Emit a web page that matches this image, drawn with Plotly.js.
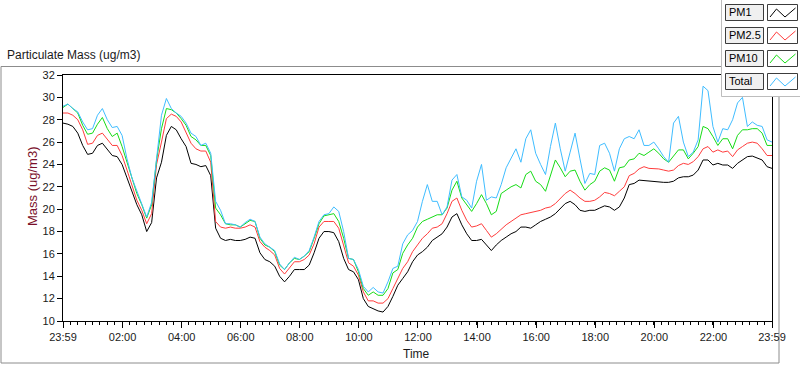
<!DOCTYPE html>
<html>
<head>
<meta charset="utf-8">
<script src="https://cdn.plot.ly/plotly-3.0.1.min.js"></script>
<style>html,body{margin:0;padding:0;background:#fff;}#chart{width:800px;height:365px;}</style>
</head>
<body>
<div id="chart"></div>
<script>
// ---- Data (10-minute samples from 23:59 to 23:59 next day) ----
const startTime = [2024, 0, 1, 23, 59];
const stepMinutes = 10;

const pm1 = [27.7,27.6,27.4,26.8,25.7,24.9,25.0,25.7,25.9,25.3,24.8,24.7,24.0,22.8,21.6,20.4,19.5,18.0,18.8,22.8,
24.2,26.6,27.4,27.1,26.3,25.6,24.1,24.0,23.8,23.9,23.0,18.3,17.4,17.2,17.3,17.2,17.2,17.3,17.5,17.4,
16.1,15.5,15.3,14.9,14.0,13.5,14.0,14.6,14.6,14.6,15.0,16.1,17.4,18.0,18.0,17.9,17.1,15.6,14.6,14.4,
13.7,12.0,11.3,11.1,10.9,10.8,11.3,12.2,13.2,13.8,14.4,15.3,15.9,16.2,16.6,17.2,17.5,17.8,18.4,19.3,
19.6,18.6,17.8,17.2,17.2,17.3,16.8,16.3,16.8,17.2,17.5,17.8,18.0,18.4,18.4,18.3,18.6,18.9,19.1,19.3,
19.6,20.1,20.5,20.7,20.4,19.9,19.8,19.9,19.9,20.1,20.3,20.2,19.9,20.2,21.0,22.2,22.3,22.6,22.55,22.5,
22.5,22.4,22.4,22.4,22.5,22.8,22.9,22.9,23.05,23.5,24.4,24.4,23.95,24.1,23.95,23.95,23.65,24.1,24.4,24.7,
24.75,24.6,24.4,23.8,23.65];

const pm25 = [28.6,28.6,28.4,28.0,27.1,25.8,25.9,26.6,26.8,26.3,25.7,25.7,24.8,23.5,22.2,20.8,19.9,18.7,19.6,24.0,
26.0,28.1,28.5,28.3,27.8,26.9,25.9,25.4,25.2,25.2,24.2,18.9,18.4,18.3,18.4,18.3,18.3,18.4,18.6,18.4,
17.1,16.6,16.3,15.9,14.7,14.2,14.7,15.3,15.3,15.5,15.9,16.9,18.4,18.9,18.9,18.9,18.3,16.8,15.2,14.9,
14.1,12.6,11.8,11.8,11.6,11.6,12.0,12.9,13.8,14.7,15.3,16.2,16.8,17.4,17.8,18.3,18.4,18.7,19.6,20.7,
21.0,19.9,19.0,18.4,18.5,18.7,18.1,17.5,17.8,18.2,18.6,18.9,19.2,19.5,19.6,19.7,19.8,19.9,20.1,20.2,
20.5,21.0,21.4,21.7,21.4,21.0,20.7,20.7,20.8,21.1,21.5,21.4,21.2,21.6,22.0,23.0,23.2,23.6,23.8,23.65,
23.65,23.6,23.5,23.4,23.5,23.9,24.1,24.0,24.25,24.7,25.4,25.6,25.1,25.3,25.1,25.2,24.7,25.3,25.6,25.9,
26.0,25.9,25.4,24.8,24.8];

const pm10 = [29.1,29.4,29.0,28.6,27.5,26.7,26.8,27.6,28.2,27.2,26.5,26.8,25.6,24.2,22.6,21.4,20.4,19.2,20.4,24.4,
27.2,29.0,28.9,28.6,28.1,27.5,26.5,26.2,25.7,25.7,24.8,20.1,19.5,18.7,18.6,18.6,18.4,18.7,19.0,18.9,
17.4,16.8,16.6,16.2,15.0,14.6,15.2,15.6,15.5,15.8,16.2,17.4,18.7,19.4,19.5,19.6,18.9,17.4,15.6,15.5,
14.4,12.9,12.3,12.6,12.3,12.3,12.9,14.3,14.6,16.05,16.8,17.4,18.4,18.9,19.1,19.3,19.5,19.5,20.1,21.7,
22.5,21.0,20.4,19.8,20.5,21.3,20.5,19.5,19.8,21.4,21.7,22.0,22.2,21.9,23.1,23.4,22.5,22.2,21.6,23.1,
24.4,23.7,22.9,23.4,23.5,22.5,21.7,22.2,22.5,23.4,23.7,23.5,22.5,23.7,23.8,24.4,24.5,25.0,24.8,25.1,
25.4,25.0,24.5,24.2,24.8,25.3,25.3,24.5,25.0,25.6,27.4,27.2,26.5,25.7,26.3,26.3,25.4,26.6,27.1,27.1,
27.2,27.2,26.8,25.7,25.7];

const total = [29.2,29.4,29.0,28.7,27.8,27.1,27.2,28.4,29.0,28.0,27.3,27.4,26.6,24.5,22.8,21.6,20.5,19.3,20.6,24.8,
28.4,29.9,29.0,28.6,28.3,27.7,26.8,26.5,25.7,25.9,25.0,20.7,19.9,18.7,18.7,18.6,18.4,18.8,19.1,18.9,
17.5,16.9,16.6,16.3,15.1,14.6,15.2,15.7,15.5,15.8,16.3,17.5,18.9,19.5,19.6,20.2,19.8,18.0,15.6,15.5,
14.6,13.1,12.6,13.0,12.6,12.5,13.5,14.7,14.9,16.9,17.7,18.1,18.9,20.7,22.2,20.7,20.7,19.5,20.2,22.6,
23.1,21.1,20.8,20.1,22.5,24.0,20.8,21.1,21.0,22.2,23.7,24.5,25.4,24.2,26.3,27.1,25.0,24.0,23.1,25.6,
27.7,25.4,23.4,25.1,26.8,24.5,22.3,23.2,23.1,25.7,25.9,25.0,23.4,25.4,26.3,26.5,26.3,27.1,25.7,25.7,
26.0,25.4,24.7,24.2,27.7,28.3,26.0,24.7,25.1,26.2,31.0,30.6,27.4,26.0,27.2,27.1,28.0,29.5,30.0,27.4,
27.8,27.5,27.4,26.2,26.0];

const seriesNames = ['PM1', 'PM2.5', 'PM10', 'Total'];
const seriesColors = ['#000000', '#ff3c3c', '#16dc16', '#3fbdff'];

const xTickVals = ['2024-01-01 23:59','2024-01-02 02:00','2024-01-02 04:00','2024-01-02 06:00','2024-01-02 08:00',
  '2024-01-02 10:00','2024-01-02 12:00','2024-01-02 14:00','2024-01-02 16:00','2024-01-02 18:00',
  '2024-01-02 20:00','2024-01-02 22:00','2024-01-02 23:59'];
const xTickText = ['23:59','02:00','04:00','06:00','08:00','10:00','12:00','14:00','16:00','18:00','20:00','22:00','23:59'];
const yTickVals = [10,12,14,16,18,20,22,24,26,28,30,32];

// ---- Time grid ----
function pad(n){return (n<10?'0':'')+n;}
function fmt(ms){const d=new Date(ms);return d.getUTCFullYear()+'-'+pad(d.getUTCMonth()+1)+'-'+pad(d.getUTCDate())+' '+pad(d.getUTCHours())+':'+pad(d.getUTCMinutes());}
const t0 = Date.UTC.apply(null, startTime);
const times = pm1.map((_, i) => fmt(t0 + i*stepMinutes*60000));

const allSeries = [pm1, pm25, pm10, total];
const traces = allSeries.map((vals, i) => ({
  x: times, y: vals, type: 'scatter', mode: 'lines', name: seriesNames[i],
  line: {color: seriesColors[i], width: 1, shape: 'linear'}, hoverinfo: 'skip'
}));

// ---- Layout geometry (pixels) ----
const W = 800, H = 365, ML = 63, MR = 28, MT = 75, MB = 44;
const PW = W - ML - MR, PH = H - MT - MB;
const px = x => (x - ML) / PW;
const py = y => (H - MB - y) / PH;

const shapes = [];
const annotations = [];

// outer frame
shapes.push({type:'rect', xref:'paper', yref:'paper', x0:px(1), x1:px(779), y0:py(66.5), y1:py(363), line:{color:'#8c8c8c', width:1}, layer:'below'});

// legend panel
shapes.push({type:'rect', xref:'paper', yref:'paper', x0:px(721.5), x1:px(801), y0:py(-1), y1:py(96.5), fillcolor:'#ffffff', line:{color:'#bdbdbd', width:1}, layer:'above'});
const rowTops = [4, 27, 50, 73];
seriesNames.forEach((nm, i) => {
  const top = rowTops[i], bot = top + 16;
  shapes.push({type:'rect', xref:'paper', yref:'paper', x0:px(725.5), x1:px(763.5), y0:py(top+0.5), y1:py(bot+0.5), fillcolor:'#f0f0f0', line:{color:'#3c3c3c', width:1}, layer:'above'});
  shapes.push({type:'rect', xref:'paper', yref:'paper', x0:px(767.5), x1:px(797.5), y0:py(top+0.5), y1:py(bot+0.5), fillcolor:'#ffffff', line:{color:'#3c3c3c', width:1}, layer:'above'});
  const pts = [[770, top+13], [776.5, top+5], [785, top+13], [795.5, top+4]];
  const path = 'M ' + pts.map(p => px(p[0]) + ',' + py(p[1])).join(' L ');
  shapes.push({type:'path', xref:'paper', yref:'paper', path: path, line:{color: seriesColors[i], width:1}, layer:'above'});
  annotations.push({xref:'paper', yref:'paper', x:px(726.5), y:py(top+8.5), xanchor:'left', yanchor:'middle', text:nm, showarrow:false,
    font:{family:'Liberation Sans, Arial, sans-serif', size:11, color:'#000'}});
});

// chart title
annotations.push({xref:'paper', yref:'paper', x:px(5), y:py(55), xanchor:'left', yanchor:'middle', text:'Particulate Mass (ug/m3)', showarrow:false,
  font:{family:'Liberation Sans, Arial, sans-serif', size:12, color:'#1a1a1a'}});
// y axis title
annotations.push({xref:'paper', yref:'paper', x:px(32), y:py(187), xanchor:'center', yanchor:'middle', textangle:-90, text:'Mass (ug/m3)', showarrow:false,
  font:{family:'Liberation Sans, Arial, sans-serif', size:13, color:'#7a0f2a'}});
// x axis title
annotations.push({xref:'paper', yref:'paper', x:px(416), y:py(354), xanchor:'center', yanchor:'middle', text:'Time', showarrow:false,
  font:{family:'Liberation Sans, Arial, sans-serif', size:12, color:'#1a1a1a'}});

const layout = {
  width: W, height: H,
  margin: {l: ML, r: MR, t: MT, b: MB, pad: 0},
  paper_bgcolor: '#ffffff', plot_bgcolor: '#ffffff',
  showlegend: false,
  font: {family: 'Liberation Sans, Arial, sans-serif', size: 11, color: '#1a1a1a'},
  xaxis: {
    type: 'date',
    range: [xTickVals[0], xTickVals[xTickVals.length-1]],
    tickmode: 'array', tickvals: xTickVals, ticktext: xTickText,
    ticks: 'outside', ticklen: 6, tickwidth: 1, tickcolor: '#000',
    minor: {tickmode: 'linear', tick0: xTickVals[0], dtick: 900000, ticks: 'outside', ticklen: 3, tickwidth: 1, tickcolor: '#000', showgrid: false},
    showline: true, linecolor: '#000', linewidth: 1, mirror: true,
    showgrid: false, zeroline: false,
    tickfont: {size: 11, color: '#1a1a1a'}
  },
  yaxis: {
    range: [10, 32],
    tickmode: 'array', tickvals: yTickVals,
    ticks: 'outside', ticklen: 5, tickwidth: 1, tickcolor: '#000',
    showline: true, linecolor: '#000', linewidth: 1, mirror: true,
    showgrid: false, zeroline: false,
    tickfont: {size: 11, color: '#1a1a1a'}
  },
  shapes: shapes,
  annotations: annotations
};

Plotly.newPlot('chart', traces, layout, {staticPlot: true, displayModeBar: false});
</script>
</body>
</html>
